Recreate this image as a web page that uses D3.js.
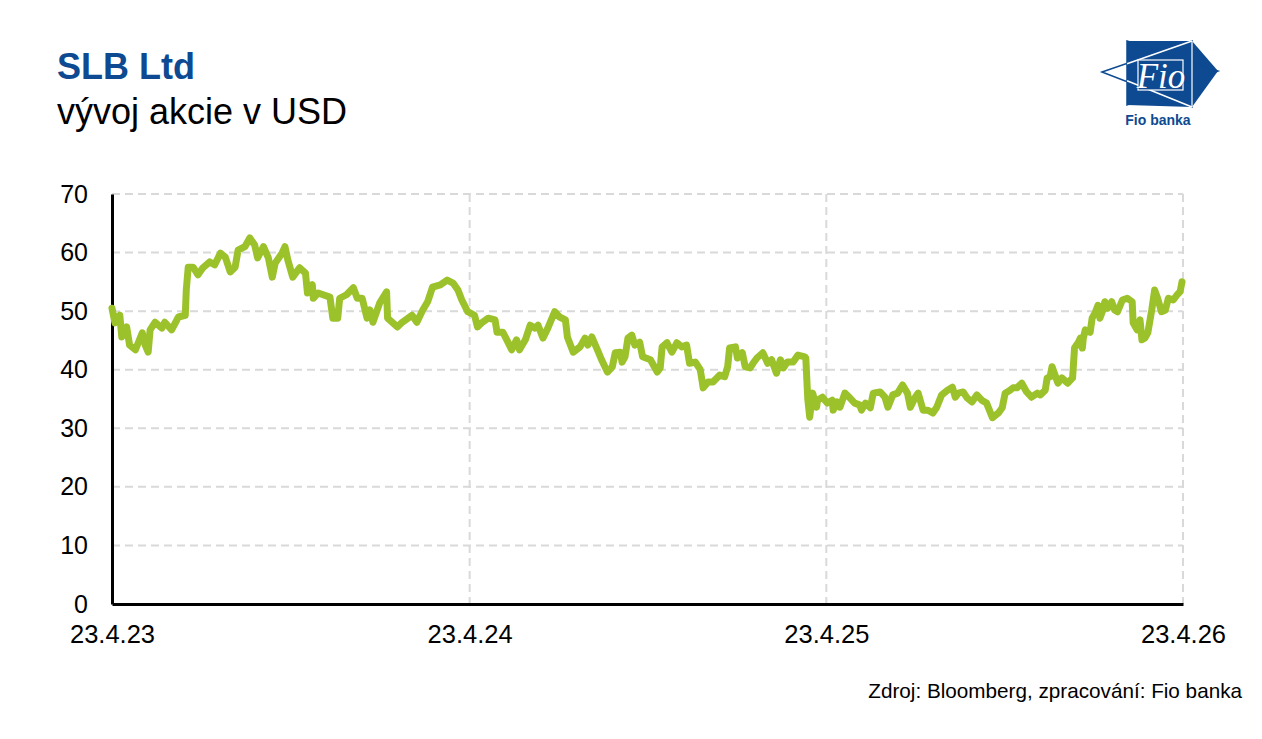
<!DOCTYPE html>
<html>
<head>
<meta charset="utf-8">
<script src="https://cdn.jsdelivr.net/npm/d3@7"></script>
<style>
  html, body { margin: 0; padding: 0; background: #fff; }
  svg { display: block; font-family: "Liberation Sans", Arial, sans-serif; }
</style>
</head>
<body>
<svg id="chart" width="1262" height="739"></svg>
<script>
// ---- data ----
const startDate = "2023-04-23";
// days since 23.4.2023
const dayOffsets = [0,3,8,10,15,18,24,31,34,37,39,44,51,54,61,68,75,76,78,83,88,93,100,105,111,116,121,126,129,136,141,146,149,155,160,164,167,174,177,180,185,192,198,200,205,206,211,223,226,231,233,240,247,251,256,261,264,267,274,281,282,292,297,303,307,312,318,323,328,336,343,349,354,358,364,371,374,379,385,392,394,400,404,409,414,417,423,428,433,436,441,446,453,458,464,466,472,479,484,487,491,496,501,507,512,515,520,522,525,528,532,535,540,543,551,558,561,563,568,573,578,583,588,591,597,602,605,610,615,622,627,630,632,638,640,645,648,653,656,660,666,671,675,680,684,687,691,697,702,709,710,712,714,717,721,722,727,732,737,738,742,745,750,755,760,765,767,771,776,779,786,791,794,799,804,809,814,817,822,825,830,835,840,844,849,855,860,863,866,871,875,880,885,890,895,901,907,911,914,919,922,926,931,936,941,947,950,955,957,960,962,965,968,972,978,983,985,989,991,993,994,996,1001,1003,1006,1009,1011,1014,1016,1019,1023,1026,1029,1034,1039,1044,1045,1049,1052,1054,1057,1060,1064,1067,1070,1074,1078,1081,1086,1090,1093,1095];
const prices = [50.5,48,49.3,45.6,47.3,44.2,43.4,46.3,44.2,43,46.8,48.1,47.1,48.1,46.8,49,49.3,53.6,57.5,57.5,56.2,57.4,58.4,57.9,59.9,59.2,56.7,57.5,60.4,61,62.5,61.3,59.1,61,59.1,55.8,58.2,59.9,61,58.7,55.8,57.4,56.5,53.1,54.5,52.2,53.1,52.4,48.8,48.8,52.2,52.8,54,52.2,52.2,48.8,50.2,48.1,51.4,53.3,48.8,47.3,48.1,48.8,49.3,48.1,50.2,51.6,54.1,54.5,55.3,54.8,53.6,51.9,49.9,49.3,47.3,48.1,48.8,48.5,46.4,46.4,45.1,43.4,45.1,43.4,45.1,47.6,47.1,47.6,45.4,47.1,49.9,49,48.5,45.6,43,43.9,45.4,44.2,45.6,43.7,41.7,39.6,40.5,42.9,43,41.3,42.2,45.4,45.9,44.2,44.7,42.2,41.7,39.6,40.3,43.9,44.6,43,44.6,43.9,44.2,41.1,41.3,40,36.9,37.9,37.9,39.1,38.8,40.5,43.7,43.9,42,42.9,40.5,40.3,41.1,42,42.9,41.1,41.7,39.4,41.7,40.3,41.3,41.3,42.5,42.2,42,35,31.9,36,33.6,34.8,35.3,34.3,34.8,33.1,34.5,33.6,36,35.2,34.3,34,33.1,34.3,33.5,36,36.2,35.3,33.6,35.7,36,37.4,36,33.6,35.3,36,33.1,33.1,32.6,33.6,35.7,36.5,37,35.3,36,36.2,35.2,34.5,35.7,34.8,34.3,31.8,32.6,33.5,36,36.5,36.9,36.9,37.7,36.2,35.3,36,35.7,36.5,38.6,38.8,40.5,39.1,37.7,38.6,37.7,38.6,43.7,44.7,45.4,43.7,45.4,46.8,46.4,48.8,49.7,51,48.8,50.2,51.6,50.5,51.6,50.2,49.9,51.9,52.2,51.6,48,46.8,48.5,45.1,45.4,46.3,50.2,53.6,52.2,49.9,50.2,52.2,51.9,52.8,53.3,55];
const xTickDates = ["2023-04-23","2024-04-23","2025-04-23","2026-04-23"];
const xTickLabels = ["23.4.23","23.4.24","23.4.25","23.4.26"];
const yTicks = [0,10,20,30,40,50,60,70];

const title = "SLB Ltd";
const subtitle = "vývoj akcie v USD";
const source = "Zdroj: Bloomberg, zpracování: Fio banka";

// ---- layout ----
const svg = d3.select("#chart");
const plotL = 112, plotR = 1183, plotT = 194, plotB = 604;
const blue = "#0d4a91";
const green = "#9cc22b";
const grid = "#d9d9d9";

const parse = d3.utcParse("%Y-%m-%d");
const t0 = parse(startDate);
const data = dayOffsets.map((d, i) => ({ date: d3.utcDay.offset(t0, d), v: prices[i] }));

const x = d3.scaleUtc().domain([parse(xTickDates[0]), parse(xTickDates[3])]).range([plotL, plotR]);
const y = d3.scaleLinear().domain([0, 70]).range([plotB, plotT]);

// titles
svg.append("text").attr("x", 57).attr("y", 79).attr("fill", blue)
  .attr("font-size", 36).attr("font-weight", "bold").text(title);
svg.append("text").attr("x", 57).attr("y", 124).attr("fill", "#000")
  .attr("font-size", 36).text(subtitle);

// horizontal grid
svg.append("g").selectAll("line").data(yTicks.filter(d => d > 0)).join("line")
  .attr("x1", plotL).attr("x2", plotR)
  .attr("y1", d => y(d)).attr("y2", d => y(d))
  .attr("stroke", grid).attr("stroke-width", 2).attr("stroke-dasharray", "8,5");

// vertical grid
svg.append("g").selectAll("line").data(xTickDates.slice(1)).join("line")
  .attr("x1", d => x(parse(d))).attr("x2", d => x(parse(d)))
  .attr("y1", plotT).attr("y2", plotB)
  .attr("stroke", grid).attr("stroke-width", 2).attr("stroke-dasharray", "8,5");

// y axis
const yAxis = svg.append("g").attr("transform", `translate(${plotL},0)`)
  .call(d3.axisLeft(y).tickValues(yTicks).tickSize(0).tickPadding(24));
yAxis.select(".domain").attr("stroke", "#000").attr("stroke-width", 3);
yAxis.selectAll("text").attr("font-size", 25).attr("fill", "#000")
  .attr("font-family", "Liberation Sans, Arial, sans-serif");

// x axis
const xAxis = svg.append("g").attr("transform", `translate(0,${plotB})`)
  .call(d3.axisBottom(x).tickValues(xTickDates.map(parse))
    .tickFormat((d, i) => xTickLabels[i]).tickSize(0).tickPadding(21));
xAxis.select(".domain").attr("stroke", "#000").attr("stroke-width", 3);
xAxis.selectAll("text").attr("font-size", 25.5).attr("fill", "#000")
  .attr("font-family", "Liberation Sans, Arial, sans-serif");

// line
const line = d3.line().x(d => x(d.date)).y(d => y(d.v)).curve(d3.curveLinear);
svg.append("path").datum(data).attr("d", line)
  .attr("fill", "none").attr("stroke", green).attr("stroke-width", 7)
  .attr("stroke-linejoin", "round").attr("stroke-linecap", "round");

// source
svg.append("text").attr("x", 1242).attr("y", 698).attr("text-anchor", "end")
  .attr("font-size", 20.7).attr("fill", "#000").text(source);

// logo
const logo = svg.append("g");
logo.append("polygon").attr("points", "1102,72 1192,41 1192,107")
  .attr("fill", "#fff").attr("stroke", blue).attr("stroke-width", 1.5);
logo.append("polygon").attr("points", "1127,41 1192,41 1192,41 1218,71 1192,107 1127,105")
  .attr("fill", blue);
logo.append("polygon").attr("points", "1127,41 1218,71 1127,105")
  .attr("fill", "none").attr("stroke", blue).attr("stroke-width", 1.5);
logo.append("line").attr("x1", 1127).attr("y1", 63.7).attr("x2", 1192).attr("y2", 41)
  .attr("stroke", "#fff").attr("stroke-width", 1.5);
logo.append("line").attr("x1", 1127).attr("y1", 80.7).attr("x2", 1192).attr("y2", 107)
  .attr("stroke", "#fff").attr("stroke-width", 1.5);
logo.append("line").attr("x1", 1192).attr("y1", 41).attr("x2", 1192).attr("y2", 107)
  .attr("stroke", "#fff").attr("stroke-width", 1.2);
logo.append("rect").attr("x", 1138).attr("y", 60).attr("width", 45).attr("height", 30)
  .attr("fill", blue).attr("stroke", "#fff").attr("stroke-width", 1.2);
logo.append("text").attr("x", 1161).attr("y", 88).attr("text-anchor", "middle")
  .attr("font-family", "Liberation Serif, DejaVu Serif, serif").attr("font-size", 35)
  .attr("font-style", "italic").attr("fill", "#fff").attr("stroke", blue).attr("stroke-width", 0.6)
  .attr("paint-order", "stroke").text("Fio");
logo.append("text").attr("x", 1158).attr("y", 125).attr("text-anchor", "middle")
  .attr("font-size", 14).attr("font-weight", "bold").attr("fill", blue).text("Fio banka");
</script>
</body>
</html>
